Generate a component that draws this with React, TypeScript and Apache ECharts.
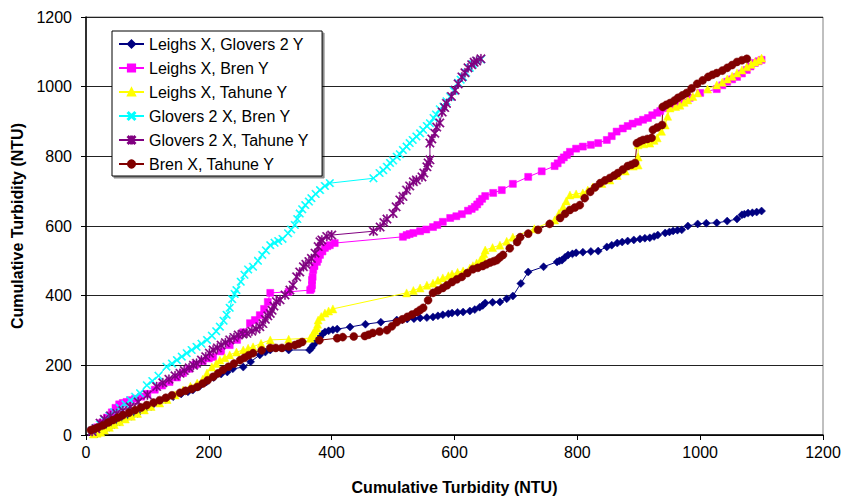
import React, { useEffect, useRef } from "react";
import * as echarts from "echarts";

const xTicks = [0, 200, 400, 600, 800, 1000, 1200];
const yTicks = [0, 200, 400, 600, 800, 1000, 1200];

const seriesNames = [
  "Leighs X, Glovers 2 Y",
  "Leighs X, Bren Y",
  "Leighs X, Tahune Y",
  "Glovers 2 X, Bren Y",
  "Glovers 2 X, Tahune Y",
  "Bren X, Tahune Y",
];

const leighsGlovers: number[][] = [
  [12, 4], [18, 3], [24, 8], [30, 14], [38, 22], [46, 30], [55, 38], [64, 46], [74, 54], [84, 62],
  [95, 72], [106, 82], [118, 92], [130, 102], [142, 110], [155, 118], [166, 124], [174, 129], [185, 140],
  [196, 152], [208, 165], [220, 175], [230, 181], [239, 190], [256, 195], [268, 210], [283, 230], [292, 238],
  [300, 244], [330, 244], [364, 244], [367, 250], [370, 258], [374, 266], [378, 275], [381, 281], [385, 290],
  [389, 296], [395, 299], [402, 302], [409, 304], [430, 310], [455, 318], [480, 324], [506, 330], [515, 331],
  [523, 333], [534, 334], [544, 336], [555, 337], [565, 339], [573, 342], [581, 345], [590, 348], [596, 350],
  [605, 352], [614, 353], [625, 356], [633, 360], [641, 367], [646, 372], [650, 379], [662, 381], [674, 382],
  [685, 391], [695, 399], [708, 435], [720, 468], [745, 483], [767, 497], [771, 500], [775, 502], [780, 510],
  [785, 517], [792, 520], [798, 523], [809, 525], [822, 527], [834, 528], [848, 540], [856, 545], [865, 551],
  [873, 554], [882, 557], [892, 560], [902, 563], [910, 565], [918, 566], [925, 570], [931, 574], [943, 580],
  [950, 583], [956, 586], [963, 588], [970, 589], [980, 600], [996, 606], [1010, 608], [1027, 609], [1044, 614],
  [1060, 620], [1068, 632], [1072, 634], [1078, 637], [1085, 638], [1092, 640], [1100, 643],
];

const leighsBren: number[][] = [
  [10, 12], [18, 22], [26, 35], [34, 50], [42, 65], [48, 78], [54, 88], [60, 92], [66, 95], [72, 100],
  [80, 104], [90, 110], [100, 118], [112, 130], [124, 142], [136, 152], [148, 165], [158, 178], [168, 190],
  [178, 202], [190, 212], [200, 220], [207, 224], [220, 240], [234, 258], [246, 273], [256, 295], [267, 321],
  [275, 330], [283, 344], [290, 362], [296, 382], [300, 408], [330, 411], [365, 416], [367, 420], [368, 430],
  [368, 445], [369, 454], [370, 474], [372, 485], [376, 497], [378, 505], [381, 517], [385, 527], [389, 537],
  [393, 542], [397, 545], [405, 551], [516, 569], [522, 574], [527, 577], [533, 580], [544, 585], [554, 590],
  [565, 597], [572, 603], [581, 612], [593, 623], [603, 628], [612, 634], [622, 644], [628, 649], [633, 655],
  [637, 662], [641, 670], [645, 678], [650, 686], [663, 695], [677, 703], [695, 721], [720, 741], [742, 757],
  [763, 772], [768, 780], [774, 790], [778, 797], [783, 804], [788, 813], [798, 822], [809, 828], [822, 833],
  [834, 838], [848, 847], [856, 858], [864, 871], [874, 880], [882, 887], [890, 894], [899, 899], [907, 905],
  [915, 910], [922, 918], [930, 925], [935, 930], [943, 938], [951, 947], [959, 952], [967, 956], [983, 968],
  [1000, 982], [1027, 993], [1036, 1004], [1044, 1014], [1052, 1021], [1060, 1028], [1068, 1038], [1076, 1048],
  [1082, 1058], [1089, 1068], [1095, 1073], [1100, 1077],
];

const leighsTahune: number[][] = [
  [12, 3], [18, 5], [24, 8], [30, 14], [38, 22], [46, 30], [55, 38], [64, 46], [74, 54], [84, 62],
  [95, 72], [106, 82], [120, 92], [132, 102], [145, 115], [158, 129], [170, 140], [181, 149], [190, 160],
  [197, 178], [205, 195], [212, 205], [218, 215], [226, 222], [234, 230], [245, 238], [256, 244], [264, 249],
  [272, 253], [285, 263], [300, 273], [330, 275], [365, 278], [368, 285], [370, 293], [373, 300], [376, 307],
  [377, 318], [378, 330], [383, 340], [389, 350], [395, 356], [402, 362], [522, 408], [533, 415], [544, 422],
  [555, 430], [565, 436], [573, 444], [581, 451], [590, 457], [596, 462], [605, 467], [614, 471], [625, 479],
  [630, 486], [636, 494], [642, 502], [646, 511], [648, 520], [650, 531], [662, 538], [674, 545], [685, 556],
  [695, 568], [730, 592], [763, 617], [770, 636], [777, 655], [782, 672], [788, 689], [798, 692], [809, 695],
  [817, 703], [825, 712], [840, 722], [853, 732], [865, 745], [878, 758], [891, 772], [899, 775], [899, 798],
  [899, 833], [908, 836], [918, 838], [925, 846], [930, 853], [937, 872], [943, 890], [947, 915], [951, 939],
  [960, 943], [967, 947], [974, 955], [980, 962], [988, 972], [996, 982], [1012, 993], [1027, 1005],
  [1036, 1013], [1044, 1022], [1052, 1030], [1060, 1039], [1068, 1048], [1076, 1057], [1083, 1064],
  [1089, 1071], [1095, 1076], [1100, 1082],
];

const gloversBren: number[][] = [
  [10, 12], [16, 20], [23, 30], [30, 43], [38, 55], [46, 66], [55, 78], [64, 88], [72, 100], [80, 110],
  [88, 120], [99, 143], [108, 155], [118, 170], [131, 196], [140, 205], [148, 215], [156, 225], [164, 235],
  [172, 244], [180, 253], [188, 262], [197, 273], [205, 285], [212, 298], [218, 311], [224, 328], [229, 345],
  [234, 365], [238, 390], [242, 405], [245, 416], [252, 440], [258, 460], [264, 475], [272, 483], [280, 500],
  [287, 517], [293, 530], [300, 545], [307, 552], [313, 557], [320, 563], [329, 579], [334, 590], [340, 603],
  [344, 620], [348, 636], [352, 648], [357, 660], [363, 670], [367, 680], [374, 692], [381, 703], [389, 715],
  [397, 723], [468, 737], [478, 752], [484, 760], [490, 770], [495, 781], [500, 788], [506, 799], [511, 806],
  [516, 818], [522, 828], [527, 838], [532, 847], [538, 857], [544, 866], [549, 876], [555, 887], [560, 895],
  [566, 910], [570, 920], [576, 935], [582, 943], [587, 958], [593, 971], [599, 988], [606, 1011], [610, 1020],
  [614, 1028], [619, 1040], [625, 1054], [630, 1065], [636, 1074], [643, 1078],
];

const gloversTahune: number[][] = [
  [10, 10], [16, 18], [23, 34], [30, 45], [40, 55], [50, 62], [60, 70], [72, 81], [85, 95], [100, 115],
  [115, 139], [125, 150], [135, 160], [145, 170], [153, 177], [160, 185], [168, 193], [175, 200], [180, 206],
  [188, 215], [195, 225], [201, 235], [207, 244], [214, 250], [220, 258], [227, 265], [234, 273], [241, 280],
  [248, 287], [255, 290], [262, 292], [270, 298], [277, 304], [283, 311], [288, 320], [292, 332], [296, 342],
  [300, 349], [303, 358], [306, 370], [310, 383], [316, 388], [324, 402], [332, 416], [337, 430], [343, 454],
  [348, 468], [354, 483], [358, 490], [363, 498], [367, 507], [373, 522], [378, 541], [381, 555], [384, 560],
  [392, 570], [400, 574], [468, 585], [479, 597], [485, 610], [490, 620], [500, 636], [505, 655], [511, 675],
  [516, 685], [522, 703], [527, 715], [533, 727], [538, 732], [547, 741], [550, 752], [555, 770], [557, 781],
  [560, 790], [560, 838], [563, 850], [568, 866], [571, 884], [576, 896], [580, 927], [584, 940], [587, 952],
  [595, 972], [601, 990], [606, 1008], [612, 1028], [617, 1040], [622, 1054], [628, 1063], [632, 1070],
  [636, 1074], [643, 1080],
];

const brenTahune: number[][] = [
  [8, 14], [14, 18], [20, 22], [28, 28], [36, 36], [44, 43], [52, 50], [60, 57], [70, 64], [80, 72],
  [90, 79], [99, 86], [110, 93], [120, 100], [130, 107], [140, 114], [153, 121], [162, 127], [172, 132],
  [181, 138], [190, 148], [198, 157], [207, 167], [215, 177], [223, 187], [232, 196], [241, 205], [251, 215],
  [258, 222], [265, 229], [272, 235], [286, 243], [300, 250], [309, 250], [319, 250], [330, 254], [340, 258],
  [346, 262], [352, 267], [380, 272], [409, 278], [418, 281], [436, 283], [454, 284], [460, 288], [467, 293],
  [478, 297], [490, 301], [498, 312], [506, 324], [515, 332], [523, 339], [531, 346], [539, 353], [544, 359],
  [549, 365], [557, 387], [565, 408], [573, 415], [581, 422], [588, 430], [596, 439], [604, 447], [612, 454],
  [621, 465], [630, 476], [638, 480], [646, 485], [652, 490], [658, 495], [664, 499], [669, 502], [674, 510],
  [679, 517], [690, 536], [702, 554], [707, 568], [720, 578], [736, 589], [755, 606], [772, 623], [780, 635],
  [788, 646], [796, 653], [804, 660], [812, 680], [821, 698], [829, 711], [837, 723], [845, 731], [853, 738],
  [860, 745], [866, 752], [874, 762], [882, 772], [888, 776], [894, 781], [897, 838], [902, 843], [907, 847],
  [914, 850], [921, 853], [923, 876], [930, 883], [938, 890], [939, 942], [945, 948], [951, 953], [958, 960],
  [964, 968], [971, 975], [978, 982], [986, 995], [995, 1008], [1004, 1018], [1013, 1028], [1020, 1034],
  [1027, 1039], [1036, 1046], [1044, 1054], [1052, 1062], [1060, 1071], [1068, 1076], [1076, 1080],
];

const seriesData = [leighsGlovers, leighsBren, leighsTahune, gloversBren, gloversTahune, brenTahune];
const seriesColors = ["#000080", "#FF00FF", "#FFFF00", "#00FFFF", "#800080", "#800000"];
const X_SYMBOL = "path://M0,1L1,0L5,4L9,0L10,1L6,5L10,9L9,10L5,6L1,10L0,9L4,5Z";
const STAR_SYMBOL =
  "path://M0,1L1,0L5,4L9,0L10,1L6,5L10,9L9,10L5,6L1,10L0,9L4,5Z M4.4,0L5.6,0L5.6,10L4.4,10Z";
const seriesSymbols = ["diamond", "rect", "triangle", X_SYMBOL, STAR_SYMBOL, "circle"];
const seriesSizes = [8, 7, 8, 8, 9, 8];

const FONT = "'Liberation Sans', Arial, sans-serif";

export default function App() {
  const ref = useRef<HTMLDivElement>(null);
  useEffect(() => {
    if (!ref.current) return;
    const chart = echarts.init(ref.current, null, { renderer: "svg" });
    chart.setOption({
      animation: false,
      backgroundColor: "#ffffff",
      textStyle: { fontFamily: FONT },
      grid: {
        left: 86,
        right: 18,
        top: 17,
        bottom: 62,
        containLabel: false,
        outerBoundsMode: "none",
        show: true,
        borderColor: "#808080",
        borderWidth: 1,
        backgroundColor: "transparent",
      },
      legend: {
        orient: "vertical",
        left: 112,
        top: 31,
        padding: [5, 13, 4, 6],
        itemWidth: 25,
        itemHeight: 9,
        itemGap: 8,
        backgroundColor: "#ffffff",
        borderColor: "#000000",
        borderWidth: 1,
        shadowColor: "rgba(0,0,0,0.45)",
        shadowOffsetX: 2,
        shadowOffsetY: 2,
        shadowBlur: 0,
        textStyle: { fontSize: 16, color: "#000", fontFamily: FONT, lineHeight: 16 },
        data: seriesNames,
      },
      xAxis: {
        type: "value",
        min: 0,
        max: 1200,
        interval: 200,
        name: "Cumulative Turbidity (NTU)",
        nameLocation: "middle",
        nameGap: 44,
        nameTextStyle: { fontSize: 16, fontWeight: "bold", color: "#000", fontFamily: FONT },
        axisLine: { show: true, onZero: false, lineStyle: { color: "#000", width: 1.5 } },
        axisTick: { show: true, inside: false, length: 5, lineStyle: { color: "#000" } },
        axisLabel: {
          fontSize: 16,
          color: "#000",
          margin: 9,
          fontFamily: FONT,
          formatter: (v: number) => (xTicks.includes(v) ? String(v) : ""),
        },
        splitLine: { show: false },
      },
      yAxis: {
        type: "value",
        min: 0,
        max: 1200,
        interval: 200,
        name: "Cumulative Turbidity (NTU)",
        nameLocation: "middle",
        nameGap: 57,
        nameRotate: 90,
        nameTextStyle: { fontSize: 16, fontWeight: "bold", color: "#000", fontFamily: FONT },
        axisLine: { show: true, onZero: false, lineStyle: { color: "#000", width: 1.5 } },
        axisTick: { show: true, inside: false, length: 5, lineStyle: { color: "#000" } },
        axisLabel: {
          fontSize: 16,
          color: "#000",
          margin: 14,
          fontFamily: FONT,
          formatter: (v: number) => (yTicks.includes(v) ? String(v) : ""),
        },
        splitLine: { show: true, lineStyle: { color: "#222", width: 1 } },
      },
      series: seriesNames.map((name, i) => ({
        name,
        type: "line",
        data: seriesData[i],
        symbol: seriesSymbols[i],
        symbolSize: seriesSizes[i],
        showSymbol: true,
        showAllSymbol: true,
        lineStyle: { color: seriesColors[i], width: 1 },
        itemStyle: { color: seriesColors[i], borderColor: seriesColors[i], borderWidth: 0.5 },
        emphasis: { disabled: true },
      })),
    });
    return () => chart.dispose();
  }, []);
  return (
    <div
      ref={ref}
      style={{ position: "fixed", left: 0, top: 0, width: 841, height: 497, background: "#fff" }}
    />
  );
}
